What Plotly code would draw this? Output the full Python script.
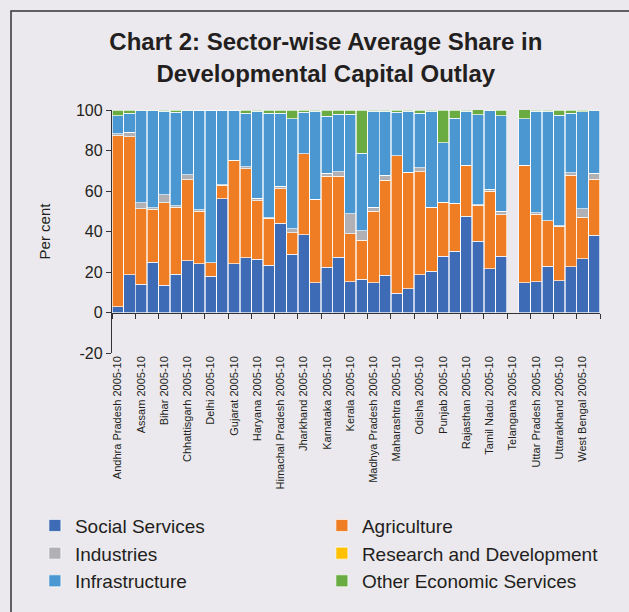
import plotly.graph_objects as go

states = ["Andhra Pradesh", "Assam", "Bihar", "Chhattisgarh", "Delhi", "Gujarat", "Haryana",
          "Himachal Pradesh", "Jharkhand", "Karnataka", "Kerala", "Madhya Pradesh", "Maharashtra",
          "Odisha", "Punjab", "Rajasthan", "Tamil Nadu", "Telangana", "Uttar Pradesh",
          "Uttarakhand", "West Bengal"]
periods = ["2005-10", "2010-15"]
categories = [f"{s} {p}" for s in states for p in periods]
tick_labels = [f"{s} 2005-10" for s in states]

social = [2.8, 18.7, 14.0, 24.8, 13.5, 18.9, 25.6, 24.1, 17.9, 56.2, 24.1, 27.1, 26.3, 23.3,
          44.0, 28.7, 38.4, 14.8, 22.3, 27.3, 15.3, 16.3, 14.8, 18.4, 9.5, 11.8, 18.6, 20.4,
          27.8, 30.2, 47.5, 35.3, 21.7, 27.8, None, 14.8, 15.1, 22.8, 15.8, 22.5, 26.6, 38.1]
agriculture = [84.6, 68.2, 37.2, 26.1, 40.7, 33.0, 39.9, 26.0, 6.6, 6.7, 51.1, 44.0, 29.0, 23.2,
               17.2, 10.7, 39.9, 40.9, 44.9, 40.0, 23.6, 19.3, 35.1, 46.8, 68.0, 57.2, 51.0, 31.5,
               26.4, 23.8, 25.2, 17.7, 38.2, 20.5, None, 57.6, 33.3, 22.4, 26.7, 45.2, 20.4, 27.6]
industries = [0.8, 2.1, 3.0, 0.8, 3.9, 0.8, 2.6, 0.6, 0.0, 0.3, 0.0, 0.8, 1.2, 0.3,
              1.2, 2.0, 0.0, 0.3, 1.6, 2.2, 9.9, 4.8, 2.0, 2.5, 0.0, 0.3, 2.0, 0.0,
              0.1, 0.0, 0.0, 0.3, 0.9, 1.6, None, 0.3, 0.9, 0.0, 0.3, 1.3, 4.2, 3.1]
research = [0, 0, 0, 0, 0, 0, 0, 0, 0, 0, 0, 0, 0, 0,
            0, 0, 0, 0, 0, 0, 0, 0, 0, 0, 0, 0, 0, 0,
            0.2, 0, 0, 0, 0, 0, None, 0, 0, 0, 0, 0, 0, 0]
infrastructure = [9.0, 9.4, 45.5, 48.0, 41.2, 46.3, 31.6, 49.3, 75.5, 36.8, 24.6, 26.5, 42.8, 51.6,
                  36.0, 54.2, 20.5, 43.3, 28.2, 28.5, 49.2, 38.3, 47.4, 31.6, 21.5, 30.0, 26.9, 47.4,
                  29.4, 41.9, 26.6, 44.4, 38.9, 47.3, None, 23.0, 50.2, 54.1, 54.6, 29.5, 48.0, 30.9]
other_econ = [2.8, 1.6, 0.3, 0.3, 0.7, 1.0, 0.3, 0.0, 0.0, 0.0, 0.2, 1.6, 0.7, 1.6,
              1.6, 4.4, 1.2, 0.7, 3.0, 2.0, 2.0, 21.3, 0.7, 0.7, 1.0, 0.7, 1.5, 0.7,
              16.1, 4.1, 0.7, 2.6, 0.3, 2.8, None, 4.6, 0.5, 0.7, 2.6, 1.5, 0.8, 0.3]

y_tickvals = [-20, 0, 20, 40, 60, 80, 100]
y_ticktext = ["-20", "0", "20", "40", "60", "80", "100"]

series = [
    ("Social Services", social, "#3d6bb5"),
    ("Agriculture", agriculture, "#ee7d23"),
    ("Industries", industries, "#b1b1b5"),
    ("Research and Development", research, "#ffc000"),
    ("Infrastructure", infrastructure, "#4b97d1"),
    ("Other Economic Services", other_econ, "#6bac42"),
]

FONT = "Liberation Sans, Arial, sans-serif"
TXT = "#231f20"
BG = "#ebe9ee"

fig = go.Figure()
for name, vals, col in series:
    fig.add_trace(go.Bar(
        x=categories, y=vals, name=name,
        marker=dict(color=col, line=dict(color="rgba(255,255,255,0.85)", width=0.8)),
    ))

# invisible helper trace to carry the zero-line axis with category boundary ticks
fig.add_trace(go.Scatter(x=categories, y=[0] * len(categories), xaxis="x2", mode="markers",
                         marker=dict(opacity=0), showlegend=False, hoverinfo="skip"))

fig.update_layout(
    width=629, height=612,
    barmode="stack", bargap=0.04,
    paper_bgcolor=BG, plot_bgcolor=BG,
    font=dict(family=FONT, color=TXT),
    margin=dict(l=112, r=29, t=110, b=259),
    title=dict(text="<b>Chart 2: Sector-wise Average Share in<br>Developmental Capital Outlay</b>",
               x=0.518, xanchor="center", y=0.9175, yanchor="middle",
               font=dict(family=FONT, size=24, color=TXT)),
    xaxis=dict(type="category", categoryorder="array", categoryarray=categories,
               range=[-0.5, len(categories) - 0.5],
               tickmode="array", tickvals=categories[0::2], ticktext=tick_labels,
               tickangle=-90, ticks="", showline=False, showgrid=False, zeroline=False,
               tickfont=dict(family=FONT, size=11, color=TXT)),
    xaxis2=dict(type="category", categoryorder="array", categoryarray=categories,
                range=[-0.5, len(categories) - 0.5], overlaying="x", anchor="free",
                position=20 / 120, side="bottom", showticklabels=False,
                ticks="outside", tickson="boundaries", ticklen=5, tickcolor="#333333",
                showline=True, linecolor="#333333", linewidth=1.3, showgrid=False),
    yaxis=dict(range=[-20, 100], tickmode="array", tickvals=y_tickvals, ticktext=y_ticktext,
               ticks="outside", ticklen=5, tickcolor="#333333",
               showline=True, linecolor="#333333", linewidth=1.3,
               showgrid=False, zeroline=False,
               tickfont=dict(family=FONT, size=16, color=TXT),
               title=dict(text="Per cent", standoff=21, font=dict(family=FONT, size=15, color=TXT))),
    legend=dict(orientation="h", x=-0.158, xanchor="left", y=-0.632, yanchor="top",
                entrywidth=242, traceorder="normal", bgcolor="rgba(0,0,0,0)",
                font=dict(family=FONT, size=19, color=TXT)),
    shapes=[dict(type="rect", xref="paper", yref="paper",
                 x0=(11 - 112) / 488, x1=1.2, y0=-1.2, y1=(353 - 11) / 243,
                 line=dict(color="#333333", width=1.5), fillcolor="rgba(0,0,0,0)", layer="below")],
)

fig.write_html("out.html")
